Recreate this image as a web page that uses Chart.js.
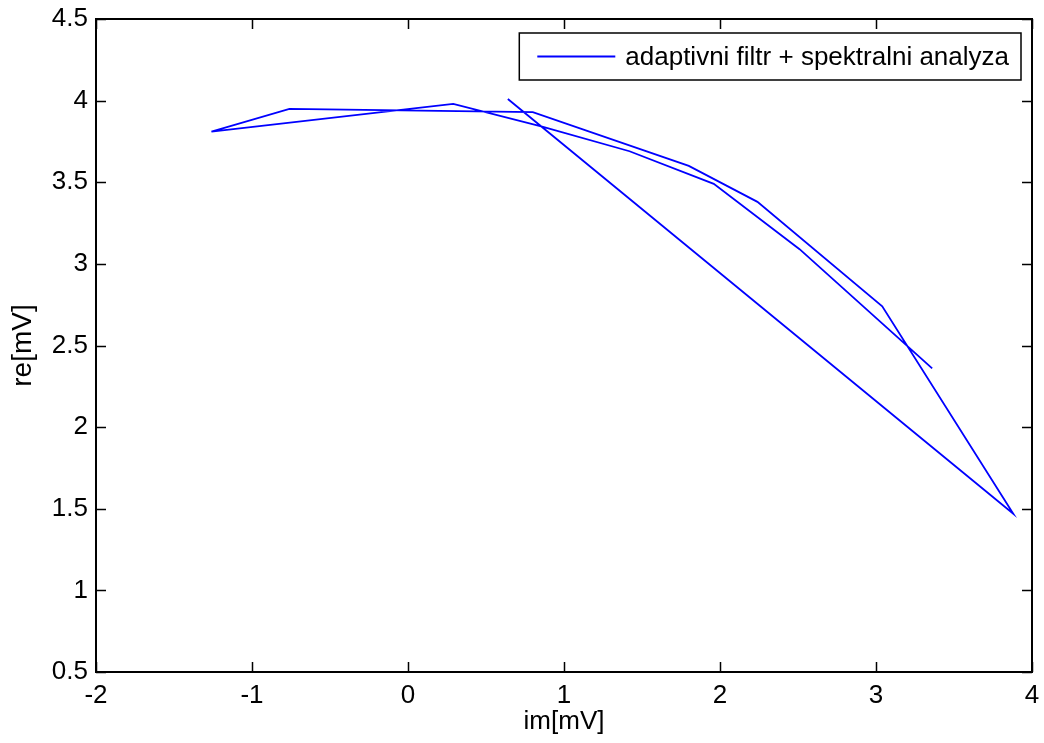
<!DOCTYPE html>
<html>
<head>
<meta charset="utf-8">
<script src="https://cdn.jsdelivr.net/npm/chart.js@4/dist/chart.umd.min.js"></script>
<style>
  html, body { margin: 0; padding: 0; background: #fff; }
  #wrap { width: 1044px; height: 743px; }
</style>
</head>
<body>
<div id="wrap"><canvas id="plot"></canvas></div>
<script>
// im / re values, in drawing order
const imValues = [0.64, 3.88, 3.04, 2.24, 1.80, 0.80, -0.76, -1.26, 0.29, 0.86, 1.42, 1.96, 2.51, 3.36];
const reValues = [4.01, 1.47, 2.74, 3.38, 3.60, 3.93, 3.95, 3.81, 3.98, 3.84, 3.69, 3.49, 3.09, 2.36];
const seriesLabel = "adaptivni filtr + spektralni analyza";
const xTicks = [-2, -1, 0, 1, 2, 3, 4];
const yTicks = [0.5, 1, 1.5, 2, 2.5, 3, 3.5, 4, 4.5];

const points = imValues.map((v, i) => ({ x: v, y: reValues[i] }));
const FONT = "Liberation Sans, Arial, sans-serif";
const FSIZE = 26;

// matlab style box, inward ticks and legend
const matlabBox = {
    id: "matlabBox",
    afterDatasetsDraw(chart) {
        const ctx = chart.ctx;
        const a = chart.chartArea;
        const xs = chart.scales.x;
        const ys = chart.scales.y;
        const len = 10;
        ctx.save();
        ctx.strokeStyle = "#000";
        ctx.lineWidth = 1.5;
        ctx.beginPath();
        xs.ticks.forEach((t) => {
            const px = Math.round(xs.getPixelForValue(t.value)) + 0.5;
            ctx.moveTo(px, a.bottom); ctx.lineTo(px, a.bottom - len);
            ctx.moveTo(px, a.top); ctx.lineTo(px, a.top + len);
        });
        ys.ticks.forEach((t) => {
            const py = Math.round(ys.getPixelForValue(t.value)) + 0.5;
            ctx.moveTo(a.left, py); ctx.lineTo(a.left + len, py);
            ctx.moveTo(a.right, py); ctx.lineTo(a.right - len, py);
        });
        ctx.stroke();
        ctx.lineWidth = 2;
        ctx.strokeRect(a.left, a.top, a.right - a.left, a.bottom - a.top);

        // legend box
        ctx.font = FSIZE + "px " + FONT;
        const tw = ctx.measureText(seriesLabel).width;
        const bw = tw + 118;
        const bh = 47;
        const bx = a.right - 11 - bw;
        const by = a.top + 14;
        ctx.fillStyle = "#fff";
        ctx.fillRect(bx, by, bw, bh);
        ctx.lineWidth = 1.5;
        ctx.strokeRect(bx, by, bw, bh);
        ctx.strokeStyle = "#0000ff";
        ctx.lineWidth = 1.8;
        ctx.beginPath();
        ctx.moveTo(bx + 18, by + bh / 2);
        ctx.lineTo(bx + 96, by + bh / 2);
        ctx.stroke();
        ctx.fillStyle = "#000";
        ctx.textBaseline = "middle";
        ctx.fillText(seriesLabel, bx + 106, by + bh / 2 + 1);
        ctx.restore();
    },
};

const fmt = (v) => String(v);

new Chart(document.getElementById("plot").getContext("2d"), {
    type: "scatter",
    data: {
        datasets: [
            {
                label: seriesLabel,
                data: points,
                showLine: true,
                borderColor: "#0000ff",
                backgroundColor: "#0000ff",
                borderWidth: 1.8,
                pointRadius: 0,
                tension: 0,
            },
        ],
    },
    options: {
        responsive: true,
        maintainAspectRatio: false,
        animation: false,
        layout: { padding: { top: 19, right: 12, left: 0, bottom: 6 } },
        plugins: { legend: { display: false }, tooltip: { enabled: false } },
        scales: {
            x: {
                type: "linear",
                min: -2,
                max: 4,
                afterBuildTicks: (s) => { s.ticks = xTicks.map((v) => ({ value: v })); },
                afterFit: (s) => { s.height = 65; s.paddingLeft = 0; s.paddingRight = 0; },
                grid: { display: false, drawTicks: false },
                border: { display: false },
                ticks: { color: "#000", font: { size: FSIZE, family: FONT }, padding: 8, callback: fmt, maxRotation: 0 },
                title: { display: true, text: "im[mV]", color: "#000", font: { size: FSIZE, family: FONT }, padding: { top: 0, bottom: 0 } },
            },
            y: {
                type: "linear",
                min: 0.5,
                max: 4.5,
                afterBuildTicks: (s) => { s.ticks = yTicks.map((v) => ({ value: v })); },
                afterFit: (s) => { s.width = 96; s.paddingTop = 0; s.paddingBottom = 0; },
                grid: { display: false, drawTicks: false },
                border: { display: false },
                ticks: { color: "#000", font: { size: FSIZE, family: FONT }, padding: 8, callback: fmt },
                title: { display: true, text: "re[mV]", color: "#000", font: { size: 28, family: FONT }, padding: { top: 6 } },
            },
        },
    },
    plugins: [matlabBox],
});
</script>
</body>
</html>
